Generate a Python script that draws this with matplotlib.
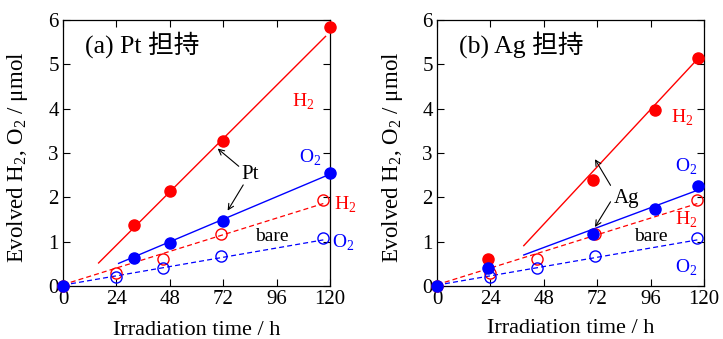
import numpy as np
import matplotlib
matplotlib.use("Agg")
import matplotlib.pyplot as plt

plt.rcParams['font.family'] = ['Liberation Serif', 'Noto Sans CJK JP']
plt.rcParams['mathtext.fontset'] = 'custom'
plt.rcParams['mathtext.rm'] = 'Liberation Serif'

# (a) Pt loaded
pt_t = [0, 32, 48, 72, 120]
pt_h2 = [0, 1.38, 2.14, 3.27, 5.84]
pt_o2 = [0, 0.63, 0.96, 1.46, 2.55]
pt_h2_fit = ([16, 118], [0.52, 5.63])
pt_o2_fit = ([25, 118], [0.51, 2.48])

# (b) Ag loaded
ag_t = [0, 23, 70, 98, 117.5]
ag_h2 = [0, 0.61, 2.40, 3.96, 5.15]
ag_o2 = [0, 0.40, 1.18, 1.73, 2.26]
ag_h2_fit = ([39, 116], [0.91, 5.06])
ag_o2_fit = ([39, 116], [0.70, 2.14])

# bare
bare_t = [0, 24, 45, 71, 117]
bare_h2 = [0, 0.29, 0.62, 1.18, 1.93]
bare_o2 = [0, 0.20, 0.40, 0.67, 1.08]
bare_h2_fit = ([0, 117], [0.03, 1.86])
bare_o2_fit = ([0, 117], [0.02, 1.04])

xticks = [0, 24, 48, 72, 96, 120]
yticks = [0, 1, 2, 3, 4, 5, 6]

RED = '#ff0000'
BLUE = '#0000ff'
H2 = 'H$_\\mathrm{2}$'
O2 = 'O$_\\mathrm{2}$'

fig = plt.figure(figsize=(7.23, 3.39), dpi=100, facecolor='white')
ax1 = fig.add_axes([63/723, 53/339, 267/723, 266/339])
ax2 = fig.add_axes([437/723, 53/339, 267/723, 266/339])


def base(ax, t, h2, o2, h2fit, o2fit):
    ax.plot(*bare_h2_fit, '--', color=RED, lw=0.9, dashes=(4, 2.5))
    ax.plot(*bare_o2_fit, '--', color=BLUE, lw=0.9, dashes=(4, 2.5))
    ax.plot(*h2fit, '-', color=RED, lw=1.0)
    ax.plot(*o2fit, '-', color=BLUE, lw=1.0)
    ax.plot(bare_t[1:], bare_h2[1:], 'o', mfc='none', mec=RED, ms=8, mew=1.0)
    ax.plot(bare_t[1:], bare_o2[1:], 'o', mfc='none', mec=BLUE, ms=8, mew=1.0)
    ax.plot(t, h2, 'o', color=RED, ms=8, clip_on=False, zorder=5)
    ax.plot(t, o2, 'o', color=BLUE, ms=8, clip_on=False, zorder=5)
    ax.set_xlim(0, 120)
    ax.set_ylim(0, 6)
    ax.set_xticks(xticks)
    ax.set_yticks(yticks)
    ax.tick_params(direction='in', top=True, right=True, length=5, width=0.8,
                   labelsize=15, pad=3)
    for s in ax.spines.values():
        s.set_linewidth(0.9)


base(ax1, pt_t, pt_h2, pt_o2, pt_h2_fit, pt_o2_fit)
base(ax2, ag_t, ag_h2, ag_o2, ag_h2_fit, ag_o2_fit)

# labels panel (a)
ax1.text(10, 5.45, '(a) Pt 担持', fontsize=18.5, va='center')
ax1.text(103, 4.15, H2, color=RED, fontsize=14, va='center')
ax1.text(106, 2.9, O2, color=BLUE, fontsize=14, va='center')
ax1.text(122, 1.83, H2, color=RED, fontsize=14, va='center', clip_on=False)
ax1.text(121, 0.98, O2, color=BLUE, fontsize=14, va='center', clip_on=False)
ax1.text(94, 1.12, 'bare', fontsize=14, va='center', ha='center')
ax1.text(84, 2.52, 'Pt', fontsize=15, va='center', ha='center')
ap = dict(arrowstyle='->', color='black', lw=0.8, shrinkA=0, shrinkB=0)
ax1.annotate('', xy=(69.5, 3.1), xytext=(79, 2.7), arrowprops=ap)
ax1.annotate('', xy=(74, 1.7), xytext=(81, 2.28), arrowprops=ap)

# labels panel (b)
ax2.text(10, 5.45, '(b) Ag 担持', fontsize=18.5, va='center')
ax2.text(105, 3.8, H2, color=RED, fontsize=14, va='center')
ax2.text(107, 2.68, O2, color=BLUE, fontsize=14, va='center')
ax2.text(107, 1.5, H2, color=RED, fontsize=14, va='center')
ax2.text(96, 1.12, 'bare', fontsize=14, va='center', ha='center')
ax2.text(107, 0.42, O2, color=BLUE, fontsize=14, va='center')
ax2.text(85, 1.97, 'Ag', fontsize=15, va='center', ha='center')
ax2.annotate('', xy=(71, 2.86), xytext=(78, 2.27), arrowprops=ap)
ax2.annotate('', xy=(71, 1.33), xytext=(78, 1.9), arrowprops=ap)

ylab = 'Evolved H$_\\mathrm{2}$, O$_\\mathrm{2}$ / μmol'
ax1.set_ylabel(ylab, fontsize=16.5)
ax2.set_ylabel(ylab, fontsize=16.5)
ax1.yaxis.set_label_coords(-0.125, 0.485)
ax2.yaxis.set_label_coords(-0.118, 0.485)
ax1.set_xlabel('Irradiation time / h', fontsize=16)
ax2.set_xlabel('Irradiation time / h', fontsize=16)
ax1.xaxis.set_label_coords(0.5, -0.13)
ax2.xaxis.set_label_coords(0.5, -0.125)

fig.savefig('out.png', dpi=100)
